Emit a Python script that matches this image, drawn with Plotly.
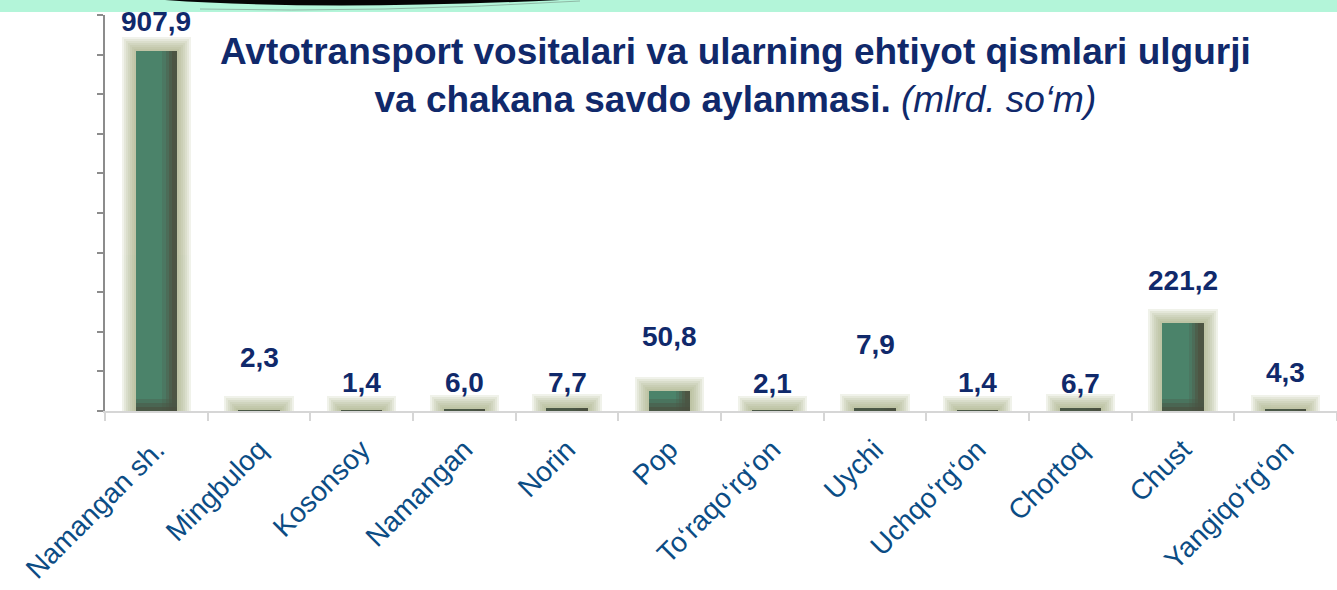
import plotly.graph_objects as go

# Wholesale and retail turnover of motor vehicles and spare parts by district (bln. so'm)
districts = ["Namangan sh.", "Mingbuloq", "Kosonsoy", "Namangan", "Norin", "Pop",
             "To‘raqo‘rg‘on", "Uychi", "Uchqo‘rg‘on", "Chortoq", "Chust", "Yangiqo‘rg‘on"]
turnover = [907.9, 2.3, 1.4, 6.0, 7.7, 50.8, 2.1, 7.9, 1.4, 6.7, 221.2, 4.3]

# how far (px) each value label sits above its bar
label_lift_px = [30, 53, 28, 26, 25, 54, 27, 63, 28, 25, 43, 37]

W, H = 1337, 590
M_L, M_R, M_T, M_B = 105, 0, 15, 179
Y_MAX = 1000
plot_h = H - M_T - M_B
plot_w = W - M_L - M_R
unit_per_px = Y_MAX / plot_h                 # data units per vertical pixel
cat_per_px = 1 / (plot_w / len(districts))   # category units per horizontal pixel

BAR_W = 0.40
NAVY = "#10296b"
TICK_BLUE = "#0b4c84"
FONT = "Liberation Sans, Arial, sans-serif"

fig = go.Figure()

# soft halo behind every bar, built from stacked translucent layers
for k in (14, 12, 10, 8, 6, 4, 2):
    grow = k * unit_per_px
    fig.add_bar(
        x=districts,
        y=[v + 2 * grow for v in turnover],
        base=[-grow] * len(turnover),
        width=BAR_W + 2 * k * cat_per_px,
        marker=dict(color="#a7b084", line=dict(width=0)),
        opacity=0.16,
        hoverinfo="skip",
        showlegend=False,
    )

# main green bar
fig.add_bar(
    x=districts, y=turnover, width=BAR_W,
    marker=dict(color="#4b836a", line=dict(width=0)),
    showlegend=False,
)

# darker shading toward the right edge
for off, w, col in ((0.06, 0.14, "#4b7862"), (0.09, 0.11, "#4c6c58"),
                    (0.12, 0.08, "#4d5f4c"), (0.15, 0.05, "#4d5543")):
    fig.add_bar(
        x=districts, y=turnover, width=w, offset=off,
        marker=dict(color=col, line=dict(width=0)),
        hoverinfo="skip", showlegend=False,
    )

# darker shading at the foot of each bar
for px, col, op in ((12, "#4a5a48", 0.35), (8, "#4a5444", 0.45), (4, "#4a4e3e", 0.55)):
    fig.add_bar(
        x=districts,
        y=[min(v, px * unit_per_px) for v in turnover],
        width=BAR_W,
        marker=dict(color=col, line=dict(width=0)),
        opacity=op,
        hoverinfo="skip", showlegend=False,
    )

# value labels
for name, v, lift in zip(districts, turnover, label_lift_px):
    fig.add_annotation(
        x=name, y=v, yshift=lift, yanchor="middle",
        text=f"<b>{v:.1f}</b>".replace(".", ","),
        showarrow=False,
        font=dict(family=FONT, size=28, color=NAVY),
    )


def px_x(x):
    return (x - M_L) / plot_w


def px_y(y):
    return (H - M_B - y) / plot_h


# chart title
fig.add_annotation(
    xref="paper", yref="paper",
    x=px_x(735), y=px_y(75), xanchor="center", yanchor="middle",
    text="<b>Avtotransport vositalari va ularning ehtiyot qismlari ulgurji</b><br>"
         "<b>va chakana savdo aylanmasi.</b> <i>(mlrd. so‘m)</i>",
    showarrow=False, align="center",
    font=dict(family=FONT, size=37, color=NAVY),
)

# mint header strip with a dark swoosh
shapes = [
    dict(type="rect", xref="paper", yref="paper",
         x0=px_x(0), x1=px_x(W), y0=px_y(12), y1=px_y(0),
         fillcolor="#b3f5d9", line=dict(width=0), layer="below"),
    dict(type="path", xref="paper", yref="paper",
         path=(f"M {px_x(165)},{px_y(0)} "
               f"Q {px_x(320)},{px_y(11)} {px_x(560)},{px_y(0)} Z"),
         fillcolor="#050505", line=dict(width=0)),
    dict(type="path", xref="paper", yref="paper",
         path=(f"M {px_x(200)},{px_y(9)} "
               f"Q {px_x(380)},{px_y(13)} {px_x(580)},{px_y(1)}"),
         line=dict(color="#8fb8a5", width=1)),
]

fig.update_layout(
    width=W, height=H,
    margin=dict(l=M_L, r=M_R, t=M_T, b=M_B, autoexpand=False),
    paper_bgcolor="white", plot_bgcolor="white",
    barmode="overlay",
    bargap=0,
    shapes=shapes,
    xaxis=dict(
        type="category", range=[-0.5, len(districts) - 0.5],
        automargin=False,
        showline=True, linecolor="#d6d6d6", linewidth=2,
        ticks="outside", tickson="boundaries", ticklen=8, tickcolor="#d6d6d6", tickwidth=2,
        tickangle=-45, ticklabelstandoff=9,
        tickfont=dict(family=FONT, size=28, color=TICK_BLUE),
        showgrid=False, zeroline=False,
    ),
    yaxis=dict(
        range=[0, Y_MAX], dtick=100, automargin=False,
        showline=True, linecolor="#8c8c8c", linewidth=2,
        ticks="outside", ticklen=6, tickcolor="#8c8c8c", tickwidth=2,
        showticklabels=False, showgrid=False, zeroline=False,
    ),
)

fig.write_html("out.html")
